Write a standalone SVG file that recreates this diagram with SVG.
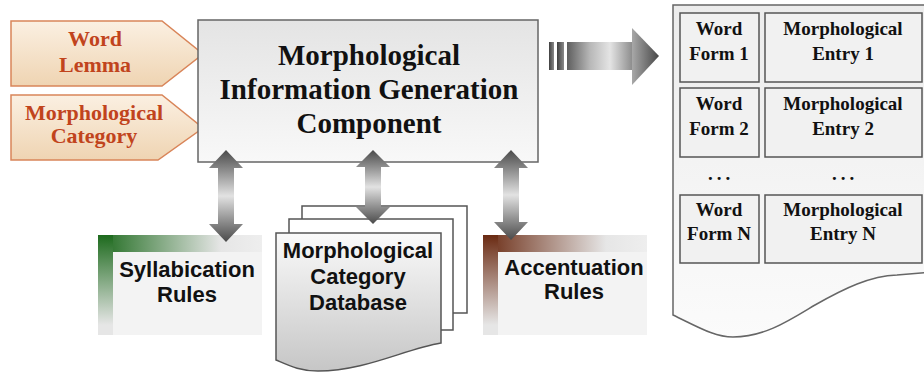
<svg xmlns="http://www.w3.org/2000/svg" width="924" height="373" viewBox="0 0 924 373">
<defs>
<linearGradient id="gIn" x1="0" y1="0" x2="0" y2="1"><stop offset="0" stop-color="#fbf0e2"/><stop offset="1" stop-color="#efd4b2"/></linearGradient>
<linearGradient id="gMain" x1="0" y1="0" x2="0" y2="1"><stop offset="0" stop-color="#e4e4e4"/><stop offset="1" stop-color="#f8f8f8"/></linearGradient>
<linearGradient id="gDA" x1="0" y1="0" x2="0" y2="1"><stop offset="0" stop-color="#4a4a4a"/><stop offset="0.22" stop-color="#8c8c8c"/><stop offset="0.5" stop-color="#e2e2e2"/><stop offset="0.78" stop-color="#8c8c8c"/><stop offset="1" stop-color="#4a4a4a"/></linearGradient>
<linearGradient id="gShaft" x1="0" y1="0" x2="1" y2="0"><stop offset="0" stop-color="#5e5e5e"/><stop offset="0.35" stop-color="#b8b8b8"/><stop offset="0.65" stop-color="#e4e4e4"/><stop offset="1" stop-color="#8a8a8a"/></linearGradient>
<linearGradient id="gHead" x1="0" y1="0" x2="1" y2="0"><stop offset="0" stop-color="#a8a8a8"/><stop offset="1" stop-color="#474747"/></linearGradient>
<linearGradient id="gBar" x1="0" y1="0" x2="1" y2="0"><stop offset="0" stop-color="#3f3f3f"/><stop offset="1" stop-color="#8a8a8a"/></linearGradient>
<linearGradient id="gGreenH" x1="0" y1="0" x2="1" y2="0"><stop offset="0" stop-color="#1d6a1d"/><stop offset="0.75" stop-color="#e6e6e6"/><stop offset="1" stop-color="#eeeeee"/></linearGradient>
<linearGradient id="gGreenV" x1="0" y1="0" x2="0" y2="1"><stop offset="0" stop-color="#1d6a1d"/><stop offset="0.9" stop-color="#e6e6e6"/></linearGradient>
<linearGradient id="gBrownH" x1="0" y1="0" x2="1" y2="0"><stop offset="0" stop-color="#6a2a12"/><stop offset="0.75" stop-color="#e6e6e6"/><stop offset="1" stop-color="#eeeeee"/></linearGradient>
<linearGradient id="gBrownV" x1="0" y1="0" x2="0" y2="1"><stop offset="0" stop-color="#6a2a12"/><stop offset="0.9" stop-color="#e6e6e6"/></linearGradient>
<linearGradient id="gDoc" x1="0" y1="0" x2="0" y2="1"><stop offset="0" stop-color="#fafafa"/><stop offset="1" stop-color="#c6c6c6"/></linearGradient>
<linearGradient id="gOut" x1="0" y1="0" x2="0" y2="1"><stop offset="0" stop-color="#ececec"/><stop offset="1" stop-color="#fbfbfb"/></linearGradient>
</defs>
<style>
.inp{fill:url(#gIn);stroke:#d98559;stroke-width:1.5}
.inpT{font-family:"Liberation Serif",serif;font-weight:bold;font-size:22px;fill:#c1441d;text-anchor:middle}
.mainT{font-family:"Liberation Serif",serif;font-weight:bold;font-size:29px;fill:#111;text-anchor:middle}
.cell{fill:#f1f1f1;stroke:#555;stroke-width:1.5}
.cellT{font-family:"Liberation Serif",serif;font-weight:bold;font-size:19px;fill:#111;text-anchor:middle}
.sansT{font-family:"Liberation Sans",Arial,sans-serif;font-weight:bold;font-size:22px;fill:#111;text-anchor:middle}
.da{fill:url(#gDA);stroke:none}
.page{fill:#ffffff;stroke:#555;stroke-width:1.5}
</style>

<g id="input-word-lemma">
<polygon class="inp" points="11,21 162,21 203,54 162,86 11,86"/>
<text class="inpT" x="95" y="46">Word</text>
<text class="inpT" x="95" y="72">Lemma</text>
</g>
<g id="input-morph-category">
<polygon class="inp" points="11,95 162,95 203,128 158,160 11,160"/>
<text class="inpT" x="94" y="120">Morphological</text>
<text class="inpT" x="94" y="143">Category</text>
</g>

<g id="main-component">
<rect x="198" y="20" width="340" height="142" fill="url(#gMain)" stroke="#666" stroke-width="1.5"/>
<text class="mainT" x="369" y="65">Morphological</text>
<text class="mainT" x="369" y="99">Information Generation</text>
<text class="mainT" x="369" y="133">Component</text>
</g>

<g id="syllabication-rules">
<rect x="98" y="235" width="164" height="100" fill="#f3f3f3"/>
<rect x="98" y="235" width="164" height="17" fill="url(#gGreenH)"/>
<rect x="98" y="235" width="15" height="100" fill="url(#gGreenV)"/>
<text class="sansT" x="187" y="277">Syllabication</text>
<text class="sansT" x="187" y="302">Rules</text>
</g>

<g id="morph-category-database">
<rect class="page" x="302" y="206" width="165" height="107"/>
<rect class="page" x="289" y="219" width="164" height="111"/>
<path d="M276,233 H441 V343 C405,349 365,371 318,371 C300,371 290,366 276,360 Z" fill="url(#gDoc)" stroke="#555" stroke-width="1.5"/>
<text class="sansT" x="358" y="258">Morphological</text>
<text class="sansT" x="358" y="284">Category</text>
<text class="sansT" x="358" y="310">Database</text>
</g>

<g id="accentuation-rules">
<rect x="483" y="235" width="164" height="100" fill="#f3f3f3"/>
<rect x="483" y="235" width="164" height="17" fill="url(#gBrownH)"/>
<rect x="483" y="235" width="15" height="100" fill="url(#gBrownV)"/>
<text class="sansT" x="574" y="275">Accentuation</text>
<text class="sansT" x="574" y="299">Rules</text>
</g>

<g id="output-document">
<path d="M673,5 H932 V272 L897,275 C870,276 845,288 815,305 C790,320 765,337 733,337 C715,337 700,328 673,315 Z" fill="url(#gOut)" stroke="#666" stroke-width="1.5"/>
<rect class="cell" x="680" y="13" width="79" height="69"/>
<rect class="cell" x="765" y="13" width="157" height="69"/>
<text class="cellT" x="719" y="35">Word</text>
<text class="cellT" x="719" y="60">Form 1</text>
<text class="cellT" x="843" y="35">Morphological</text>
<text class="cellT" x="843" y="60">Entry 1</text>
<rect class="cell" x="680" y="88" width="79" height="69"/>
<rect class="cell" x="765" y="88" width="157" height="69"/>
<text class="cellT" x="719" y="110">Word</text>
<text class="cellT" x="719" y="135">Form 2</text>
<text class="cellT" x="843" y="110">Morphological</text>
<text class="cellT" x="843" y="135">Entry 2</text>
<text class="cellT" x="721" y="180" letter-spacing="4">...</text>
<text class="cellT" x="845" y="180" letter-spacing="4">...</text>
<rect class="cell" x="680" y="195" width="79" height="68"/>
<rect class="cell" x="765" y="195" width="157" height="68"/>
<text class="cellT" x="719" y="216">Word</text>
<text class="cellT" x="719" y="240">Form N</text>
<text class="cellT" x="843" y="216">Morphological</text>
<text class="cellT" x="843" y="240">Entry N</text>
</g>

<g id="connectors">
<polygon class="da" points="226,150 243,168 234,168 234,224 243,224 226,242 209,224 218,224 218,168 209,168"/>
<polygon class="da" points="373,150 390,167 381,167 381,207 390,207 373,224 356,207 365,207 365,167 356,167"/>
<polygon class="da" points="511,150 528,168 519,168 519,222 528,222 511,240 494,222 503,222 503,168 494,168"/>
<rect x="549" y="42" width="5" height="28" fill="url(#gBar)"/>
<rect x="557" y="42" width="7" height="28" fill="url(#gBar)"/>
<rect x="567" y="42" width="66" height="28" fill="url(#gShaft)"/>
<polygon points="632,28 659,56 632,85" fill="url(#gHead)"/>
</g>
</svg>
